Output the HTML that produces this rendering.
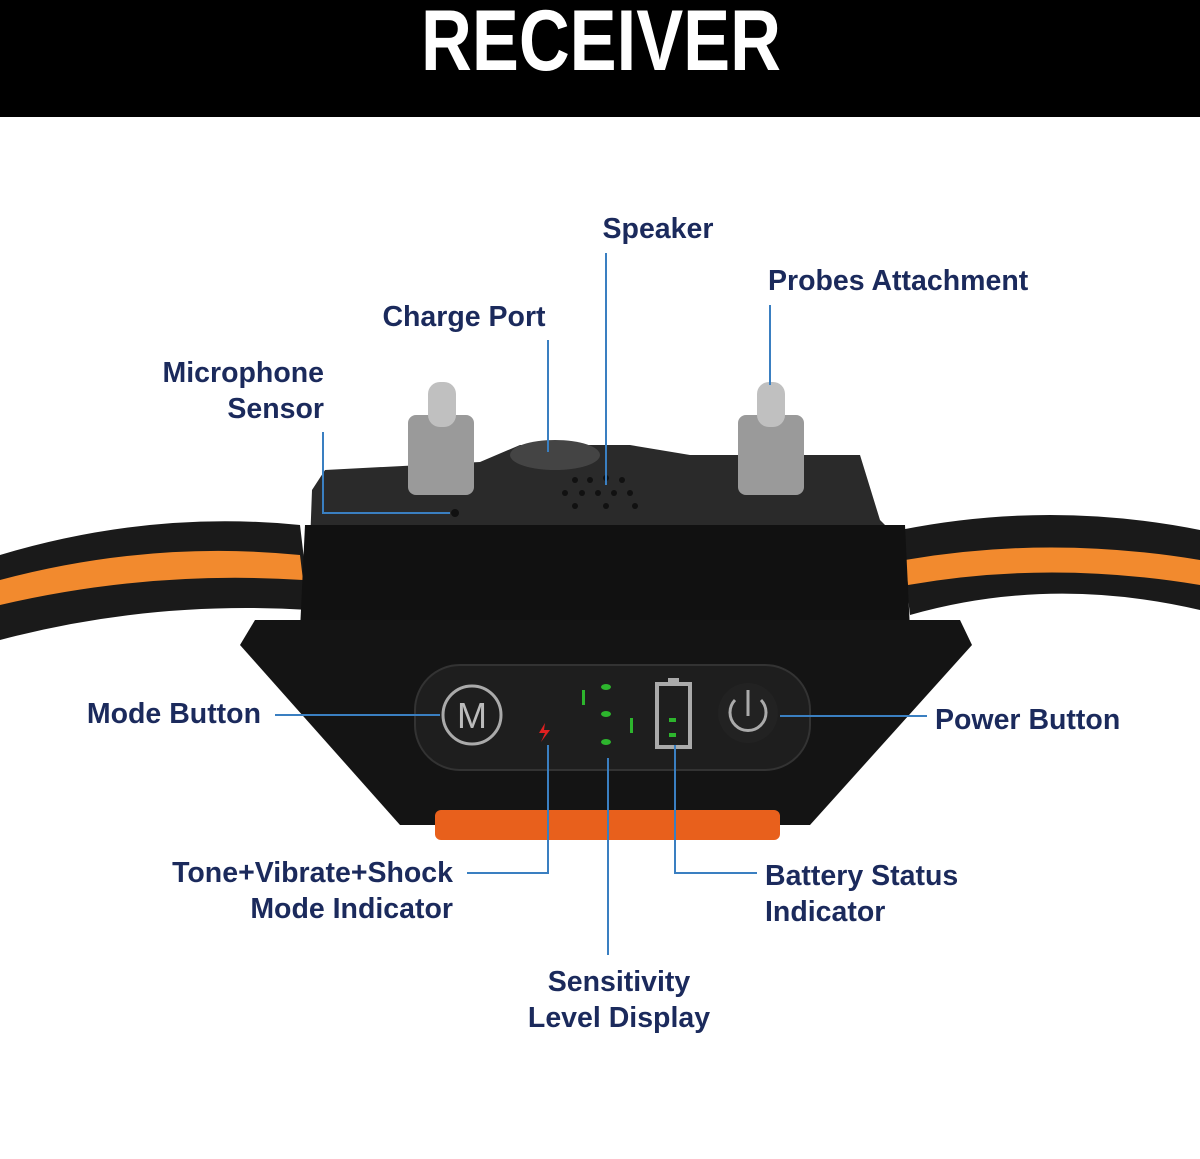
<!DOCTYPE html>
<html><head><meta charset="utf-8"><style>
html,body{margin:0;padding:0;background:#fff;}
svg{display:block;}
.l{font-family:"Liberation Sans",sans-serif;font-weight:bold;font-size:28.5px;fill:#1b2a5c;}
.c{stroke:#3a7fc1;stroke-width:2;fill:none;}
</style></head><body>
<svg width="1200" height="1159" viewBox="0 0 1200 1159" xmlns="http://www.w3.org/2000/svg">
<rect x="0" y="0" width="1200" height="117" fill="#000"/>
<text x="601" y="70" text-anchor="middle" font-family="'Liberation Sans Narrow','Liberation Sans',sans-serif" font-weight="bold" font-size="86" fill="#fff" textLength="360" lengthAdjust="spacingAndGlyphs">RECEIVER</text>

<!-- straps -->
<path d="M0 555 Q150 510 300 525 L310 610 Q150 600 0 640 Z" fill="#1a1a1a"/>
<path d="M0 580 Q150 540 300 555 L303 580 Q150 570 0 605 Z" fill="#f28a2e"/>
<path d="M900 530 Q1050 500 1200 530 L1200 610 Q1050 575 910 615 Z" fill="#1a1a1a"/>
<path d="M905 560 Q1050 535 1200 560 L1200 585 Q1050 560 908 585 Z" fill="#f28a2e"/>

<!-- body top -->
<path d="M325 470 L480 462 L520 445 L630 445 L690 455 L860 455 L880 520 L905 545 L310 545 L312 490 Z" fill="#2a2a2a"/>
<ellipse cx="555" cy="455" rx="45" ry="15" fill="#444"/>
<g fill="#111">
<circle cx="575" cy="480" r="3"/><circle cx="590" cy="480" r="3"/><circle cx="606" cy="478" r="3"/><circle cx="622" cy="480" r="3"/>
<circle cx="565" cy="493" r="3"/><circle cx="582" cy="493" r="3"/><circle cx="598" cy="493" r="3"/><circle cx="614" cy="493" r="3"/><circle cx="630" cy="493" r="3"/>
<circle cx="575" cy="506" r="3"/><circle cx="606" cy="506" r="3"/><circle cx="635" cy="506" r="3"/>
<circle cx="455" cy="513" r="4"/>
</g>
<!-- probes -->
<rect x="408" y="415" width="66" height="80" rx="8" fill="#9a9a9a"/>
<rect x="428" y="382" width="28" height="45" rx="12" fill="#c0c0c0"/>
<rect x="738" y="415" width="66" height="80" rx="8" fill="#9a9a9a"/>
<rect x="757" y="382" width="28" height="45" rx="12" fill="#c0c0c0"/>

<path d="M305 525 L905 525 L910 630 L300 630 Z" fill="#111"/>
<!-- lower trapezoid -->
<path d="M255 620 L960 620 L972 645 L810 825 L400 825 L240 645 Z" fill="#141414"/>
<rect x="435" y="810" width="345" height="30" rx="6" fill="#e8601c"/>
<rect x="415" y="665" width="395" height="105" rx="45" fill="#1e1e1e" stroke="#333" stroke-width="2"/>
<circle cx="472" cy="715" r="29" fill="none" stroke="#aaa" stroke-width="3"/>
<text x="472" y="728" text-anchor="middle" font-family="'Liberation Sans',sans-serif" font-size="36" fill="#bbb">M</text>
<circle cx="748" cy="713" r="30" fill="#222"/>
<path d="M735 700 A18 18 0 1 0 761 700" fill="none" stroke="#aaa" stroke-width="3"/>
<line x1="748" y1="690" x2="748" y2="716" stroke="#aaa" stroke-width="3"/>
<rect x="657" y="684" width="33" height="63" fill="none" stroke="#aaa" stroke-width="4"/>
<rect x="668" y="678" width="11" height="6" fill="#aaa"/>
<g fill="#2db52d">
<ellipse cx="606" cy="687" rx="5" ry="3"/><ellipse cx="606" cy="714" rx="5" ry="3"/><ellipse cx="606" cy="742" rx="5" ry="3"/>
<rect x="582" y="690" width="3" height="15"/><rect x="630" y="718" width="3" height="15"/>
<rect x="669" y="718" width="7" height="4"/><rect x="669" y="733" width="7" height="4"/>
</g>
<path d="M545 723 L539 733 L545 733 L541 742 L550 730 L544 730 Z" fill="#e02020"/>

<!-- connectors -->
<line class="c" x1="606" y1="253" x2="606" y2="485"/>
<line class="c" x1="548" y1="340" x2="548" y2="452"/>
<line class="c" x1="770" y1="305" x2="770" y2="385"/>
<polyline class="c" points="323,432 323,513 450,513"/>
<line class="c" x1="275" y1="715" x2="440" y2="715"/>
<line class="c" x1="780" y1="716" x2="927" y2="716"/>
<polyline class="c" points="548,745 548,873 467,873"/>
<line class="c" x1="608" y1="758" x2="608" y2="955"/>
<polyline class="c" points="675,745 675,873 757,873"/>

<!-- labels -->
<text class="l" x="658" y="238" text-anchor="middle">Speaker</text>
<text class="l" x="464" y="326" text-anchor="middle">Charge Port</text>
<text class="l" x="768" y="290">Probes Attachment</text>
<text class="l" x="324" y="382" text-anchor="end">Microphone</text>
<text class="l" x="324" y="418" text-anchor="end">Sensor</text>
<text class="l" x="261" y="723" text-anchor="end">Mode Button</text>
<text class="l" x="935" y="729">Power Button</text>
<text class="l" x="453" y="882" text-anchor="end">Tone+Vibrate+Shock</text>
<text class="l" x="453" y="918" text-anchor="end">Mode Indicator</text>
<text class="l" x="765" y="885">Battery Status</text>
<text class="l" x="765" y="921">Indicator</text>
<text class="l" x="619" y="991" text-anchor="middle">Sensitivity</text>
<text class="l" x="619" y="1027" text-anchor="middle">Level Display</text>
</svg>
</body></html>
